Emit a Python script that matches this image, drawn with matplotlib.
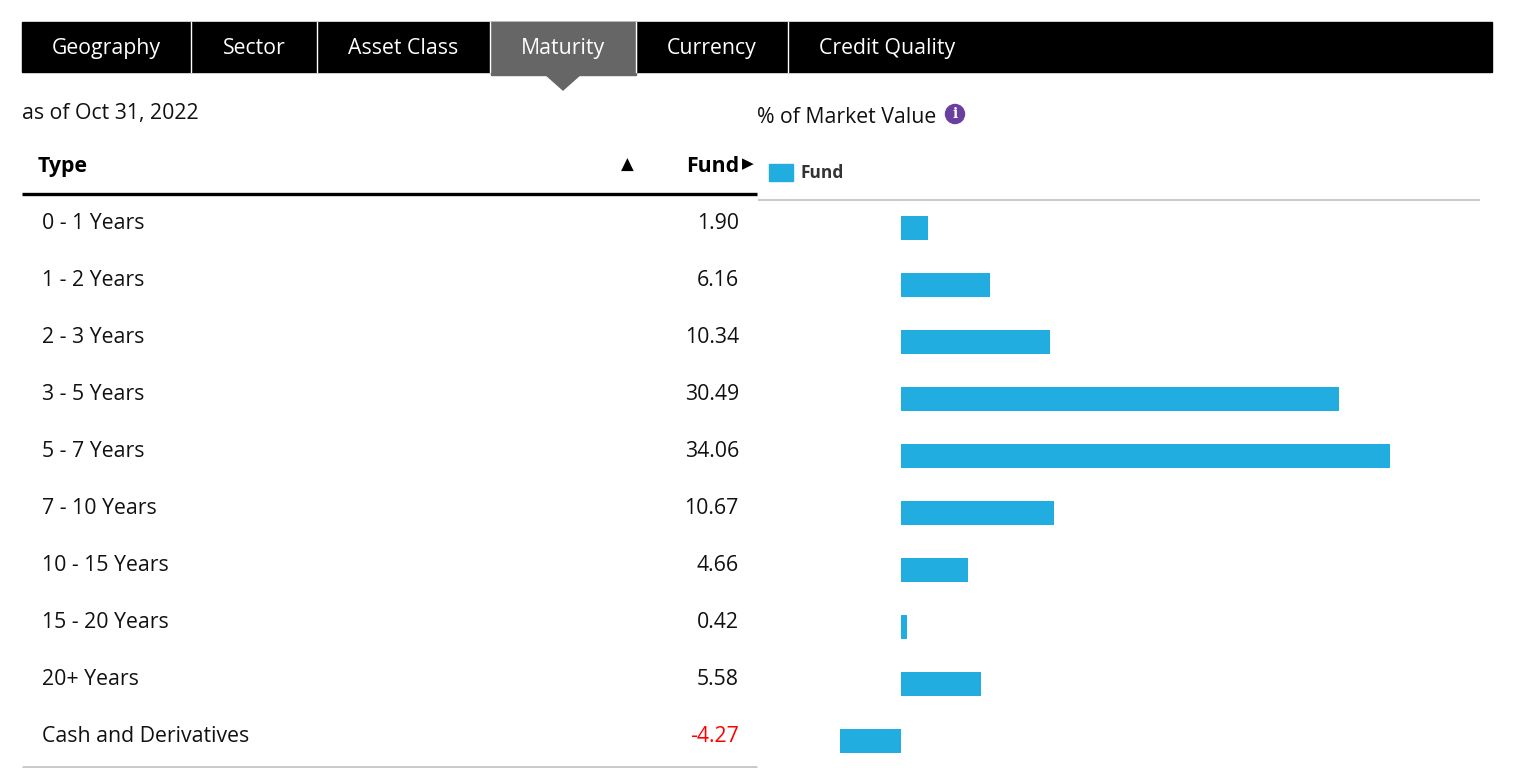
import matplotlib
matplotlib.use("Agg")
import matplotlib.pyplot as plt
from matplotlib.patches import Rectangle, Polygon, Circle

plt.rcParams['font.family'] = ['Open Sans', 'DejaVu Sans']

tabs = ["Geography", "Sector", "Asset Class", "Maturity", "Currency", "Credit Quality"]
active_tab = "Maturity"
as_of = "as of Oct 31, 2022"
categories = ["0 - 1 Years", "1 - 2 Years", "2 - 3 Years", "3 - 5 Years", "5 - 7 Years",
              "7 - 10 Years", "10 - 15 Years", "15 - 20 Years", "20+ Years", "Cash and Derivatives"]
fund = [1.90, 6.16, 10.34, 30.49, 34.06, 10.67, 4.66, 0.42, 5.58, -4.27]

W, H = 1520, 768
fig = plt.figure(figsize=(W / 100, H / 100), dpi=100)
ax0 = fig.add_axes([0, 0, 1, 1])
ax0.set_xlim(0, W)
ax0.set_ylim(H, 0)
ax0.axis('off')

FS = 15.3
DY = 1.5

# tab bar
tab_edges = [22, 191, 317, 490, 636, 788, 987]
ax0.add_patch(Rectangle((22, 22), 1492 - 22, 50, color='black', zorder=1))
for i, t in enumerate(tabs):
    x0, x1 = tab_edges[i], tab_edges[i + 1]
    if t == active_tab:
        ax0.add_patch(Rectangle((x0 + 1, 22), x1 - x0 - 1, 53, color='#666666', zorder=2))
        cx = (x0 + x1) / 2
        ax0.add_patch(Polygon([(cx - 18, 74), (cx + 18, 74), (cx, 90)], closed=True,
                              color='#666666', zorder=2))
    if i > 0:
        ax0.plot([x0, x0], [22, 72], color='white', lw=1, zorder=3)
    ax0.text((x0 + x1) / 2, 47 + DY, t, color='white', fontsize=FS, ha='center', va='center', zorder=4)

ax0.text(22, 112 + DY, as_of, fontsize=FS, ha='left', va='center', color='#111111')

# table header
ax0.text(38, 165 + DY, "Type", fontsize=FS, fontweight='bold', ha='left', va='center')
ax0.text(627, 165, "\u25B2", fontsize=12, ha='center', va='center', family=['DejaVu Sans'])
ax0.text(739, 165 + DY, "Fund", fontsize=FS, fontweight='bold', ha='right', va='center')
ax0.text(748, 164, "\u25B6", fontsize=11, ha='center', va='center', family=['DejaVu Sans'])
ax0.plot([22, 757], [194, 194], color='black', lw=2.4, solid_capstyle='butt')

row0, step = 222, 57
for i, (c, v) in enumerate(zip(categories, fund)):
    y = row0 + i * step + DY
    ax0.text(42, y, c, fontsize=FS, ha='left', va='center', color='#111111')
    ax0.text(739, y, f"{v:.2f}", fontsize=FS, ha='right', va='center',
             color='#ff0000' if v < 0 else '#111111')
ax0.plot([22, 757], [767, 767], color='#c8c8c8', lw=2, solid_capstyle='butt')

# chart header
ax0.text(757, 116 + DY, "% of Market Value", fontsize=FS, ha='left', va='center', color='#111111')
ax0.add_patch(Circle((955, 114), 9.5, color='#6a3fa0', zorder=3))
ax0.text(955, 114.5, "i", fontsize=10, fontweight='bold', color='white', ha='center', va='center',
         zorder=4, family=['DejaVu Serif'])
ax0.add_patch(Rectangle((769, 164), 24, 17, color='#22ade1'))
ax0.text(801, 173, "Fund", fontsize=12.5, fontweight='bold', ha='left', va='center',
         color='#333333', family=['Open Sans', 'DejaVu Sans'])
ax0.plot([759, 1479], [200, 200], color='#cccccc', lw=1.5)

# bar chart axes
left_px, right_px = 759, 1479
bar_row0 = row0 + 6
top_px, bot_px = bar_row0 - step / 2, bar_row0 + step * (len(fund) - 0.5)
axb = fig.add_axes([left_px / W, 1 - bot_px / H, (right_px - left_px) / W, (bot_px - top_px) / H])
scale = 14.37
axb.set_xlim((left_px - 901) / scale, (right_px - 901) / scale)
axb.set_ylim(len(fund) - 0.5, -0.5)
axb.barh(range(len(fund)), fund, height=0.42, color='#22ade1')
axb.axis('off')
axb.patch.set_alpha(0)

fig.savefig("out.png", dpi=100)
